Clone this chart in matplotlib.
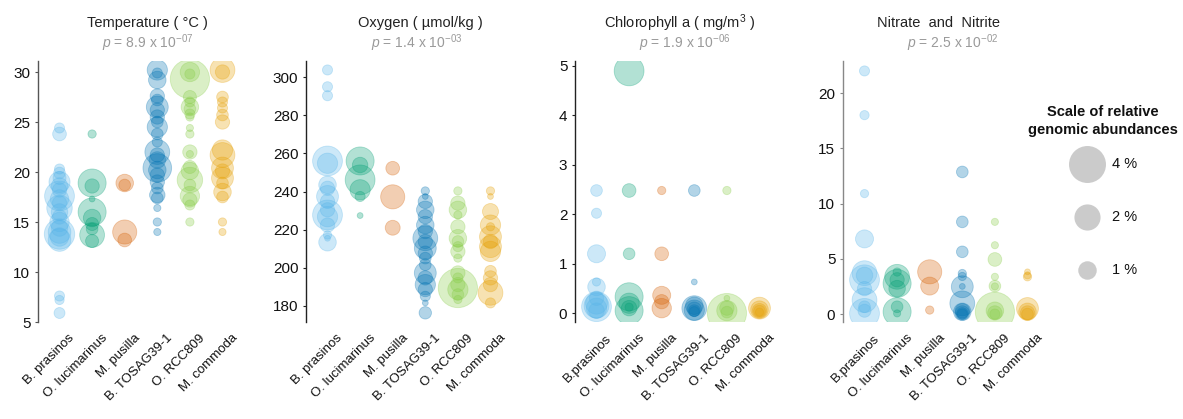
import numpy as np
import matplotlib
matplotlib.use("Agg")
import matplotlib.pyplot as plt
import matplotlib.transforms as mtransforms

plt.rcParams['font.family'] = ['Liberation Sans', 'DejaVu Sans']
plt.rcParams['mathtext.fontset'] = 'custom'
plt.rcParams['mathtext.rm'] = 'Liberation Sans'
plt.rcParams['mathtext.it'] = 'Liberation Sans:italic'

species = ['B. prasinos', 'O. lucimarinus', 'M. pusilla', 'B. TOSAG39-1', 'O. RCC809', 'M. commoda']
species_alt = ['B.prasinos', 'O. lucimarinus', 'M. pusilla', 'B. TOSAG39-1', 'O. RCC809', 'M. commoda']
colors = ['#56B4E9', '#009E73', '#D55E00', '#0072B2', '#86CC45', '#E69F00']

# temperature (degC) and relative abundance (%) per species
temp_vals = [
    [24.4, 23.8, 20.3, 19.9, 19.4, 19.0, 18.6, 18.2, 17.6, 17.3, 16.9, 16.4, 16.0, 15.5, 15.0, 14.4, 14.0, 13.8, 13.5, 13.2, 7.6, 7.2, 5.9],
    [23.8, 18.9, 18.6, 17.3, 16.0, 15.4, 14.8, 14.3, 13.7, 13.1],
    [18.9, 18.7, 14.0, 13.2],
    [30.2, 29.9, 29.2, 27.6, 27.2, 26.5, 26.2, 25.5, 25.0, 24.5, 23.8, 23.0, 22.0, 21.7, 21.2, 20.4, 20.2, 19.7, 19.0, 18.4, 17.7, 17.4, 16.4, 15.0, 14.0],
    [30.0, 29.8, 29.3, 27.5, 27.0, 26.5, 26.3, 25.8, 25.5, 24.4, 23.8, 22.0, 21.8, 20.5, 20.1, 19.2, 18.7, 17.6, 17.2, 16.7, 15.0],
    [30.2, 30.0, 27.5, 27.0, 26.4, 25.7, 25.0, 22.2, 21.7, 20.4, 20.1, 19.4, 18.9, 18.0, 17.5, 15.0, 14.0],
]
temp_abund = [
    [0.3, 0.55, 0.3, 0.4, 0.5, 1.3, 0.8, 0.6, 2.6, 1.0, 0.6, 1.9, 0.8, 0.6, 1.1, 0.8, 1.5, 2.7, 1.0, 1.5, 0.3, 0.25, 0.35],
    [0.2, 2.3, 0.6, 0.1, 2.3, 0.9, 0.5, 0.4, 1.8, 0.5],
    [0.9, 0.4, 1.7, 0.55],
    [1.2, 0.3, 0.9, 0.6, 0.4, 1.4, 0.6, 0.6, 0.4, 1.2, 0.4, 0.3, 1.8, 0.6, 0.8, 2.4, 0.9, 0.6, 0.6, 0.4, 0.7, 0.4, 0.15, 0.2, 0.15],
    [1.1, 0.3, 4.5, 0.5, 0.3, 0.9, 0.4, 0.3, 0.2, 0.15, 0.2, 0.6, 0.15, 0.5, 0.9, 1.9, 0.4, 1.1, 0.6, 0.3, 0.2],
    [1.8, 0.6, 0.4, 0.3, 0.3, 0.4, 0.6, 1.2, 1.8, 1.4, 0.6, 1.4, 0.4, 0.9, 0.4, 0.2, 0.15],
]

# oxygen (umol/kg)
oxy_vals = [
    [303.7, 294.9, 290.2, 256.0, 254.8, 243.5, 241.7, 237.4, 234.8, 230.4, 227.7, 226.8, 222.4, 217.2, 215.5, 213.4],
    [256.0, 253.9, 246.1, 240.9, 237.4, 227.4],
    [252.2, 237.2, 221.0],
    [240.3, 237.4, 234.8, 230.4, 226.8, 222.4, 219.0, 215.5, 213.8, 210.3, 207.7, 205.1, 201.6, 197.3, 194.7, 191.2, 188.6, 185.1, 181.6, 176.4],
    [240.3, 233.9, 230.4, 227.7, 221.5, 215.5, 213.8, 211.1, 208.6, 205.1, 197.3, 194.7, 191.2, 189.4, 188.6, 186.0, 183.4],
    [240.3, 237.4, 229.5, 222.4, 221.5, 216.3, 213.8, 211.1, 208.6, 198.2, 194.7, 191.2, 186.9, 181.6],
]
oxy_abund = [
    [0.3, 0.3, 0.3, 2.6, 1.2, 0.9, 0.6, 1.4, 0.6, 0.6, 2.6, 1.2, 0.6, 0.2, 0.1, 0.9],
    [2.3, 0.7, 2.6, 1.2, 0.3, 0.1],
    [0.55, 1.7, 0.65],
    [0.2, 0.1, 0.6, 0.9, 0.6, 0.9, 0.6, 1.8, 0.6, 1.4, 0.6, 0.4, 0.4, 1.4, 0.6, 1.2, 0.6, 0.3, 0.1, 0.45],
    [0.2, 0.6, 0.9, 0.2, 0.6, 0.9, 0.4, 0.3, 0.6, 0.2, 0.6, 0.3, 0.6, 4.5, 1.2, 0.4, 0.2],
    [0.2, 0.1, 0.75, 1.2, 0.2, 1.4, 0.6, 1.4, 1.2, 0.4, 0.6, 0.6, 1.8, 0.3],
]

# chlorophyll a (mg/m3)
chl_vals = [
    [2.48, 2.02, 1.2, 0.63, 0.53, 0.3, 0.2, 0.15, 0.13, 0.1, 0.05],
    [4.9, 2.48, 1.2, 0.33, 0.2, 0.12, 0.1, 0.05],
    [2.48, 1.2, 0.36, 0.23, 0.1],
    [2.48, 0.63, 0.15, 0.1, 0.08, 0.06, 0.05, 0.03],
    [2.48, 0.3, 0.1, 0.05, 0.02, 0.0],
    [0.1, 0.07, 0.05, 0.04, 0.02],
]
chl_abund = [
    [0.4, 0.3, 0.95, 0.2, 0.9, 0.6, 1.4, 1.8, 2.6, 1.2, 0.7],
    [2.6, 0.55, 0.4, 2.3, 1.2, 0.2, 0.7, 2.3],
    [0.2, 0.55, 0.95, 0.6, 1.1],
    [0.4, 0.1, 0.9, 1.8, 0.6, 1.2, 0.4, 0.3],
    [0.2, 0.1, 0.6, 1.2, 0.4, 4.5],
    [1.4, 0.9, 0.6, 0.4, 0.2],
]

# nitrate and nitrite
nit_vals = [
    [22.0, 18.0, 10.9, 6.8, 3.7, 3.5, 3.1, 2.3, 1.26, 0.66, 0.3, 0.06],
    [3.8, 3.37, 3.1, 2.77, 2.3, 0.66, 0.21, 0.06],
    [3.82, 2.53, 0.36],
    [12.86, 8.34, 5.63, 3.67, 3.4, 2.5, 2.47, 0.97, 0.3, 0.2, 0.1, 0.05, 0.0],
    [8.34, 6.23, 4.94, 3.37, 2.53, 2.5, 0.3, 0.2, 0.1, 0.0],
    [3.82, 3.5, 3.37, 0.5, 0.2, 0.1, 0.0],
]
nit_abund = [
    [0.3, 0.25, 0.2, 0.95, 1.8, 0.8, 2.6, 0.6, 1.8, 0.4, 0.5, 2.6],
    [0.2, 1.8, 0.6, 2.3, 0.8, 0.4, 2.3, 0.15],
    [1.7, 0.95, 0.2],
    [0.4, 0.4, 0.4, 0.2, 0.2, 0.1, 1.4, 1.8, 0.6, 0.9, 0.6, 0.4, 0.3],
    [0.15, 0.15, 0.55, 0.15, 0.4, 0.15, 0.9, 4.5, 0.6, 0.3],
    [0.1, 0.15, 0.2, 1.4, 0.9, 0.6, 0.4],
]

titles = ['Temperature ( °C )', 'Oxygen ( µmol/kg )', 'Chlorophyll a ( mg/m$^3$ )', 'Nitrate  and  Nitrite']
pvals = ['8.9', '1.4', '1.9', '2.5']
pexps = ['-07', '-03', '-06', '-02']
legend_pct = [4, 2, 1]

W, H = 1183, 419
fig = plt.figure(figsize=(W / 100, H / 100), dpi=100)

# size scale: bubble area proportional to abundance (1 % ~ 18.5 px across)
K = (18.5 * 0.72) ** 2


def px_axes(left, top, width, height):
    return fig.add_axes([left / W, 1 - (top + height) / H, width / W, height / H])


panels = [
    (temp_vals, temp_abund, (5, 31.1), [5, 10, 15, 20, 25, 30], species, 38, '#555555'),
    (oxy_vals, oxy_abund, (171.6, 308.4), [180, 200, 220, 240, 260, 280, 300], species, 306, '#222222'),
    (chl_vals, chl_abund, (-0.18, 5.1), [0, 1, 2, 3, 4, 5], species_alt, 575, '#222222'),
    (nit_vals, nit_abund, (-0.72, 22.9), [0, 5, 10, 15, 20], species_alt, 843, '#888888'),
]
title_x = [(147, 148), (420, 417), (680, 685), (938, 953)]

for i, (vals, abund, ylim, yticks, labels, left, spc) in enumerate(panels):
    ax = px_axes(left, 61, 206, 261)
    for j in range(len(species)):
        v = np.array(vals[j])
        a = np.array(abund[j])
        order = np.argsort(-a)
        ax.scatter(np.full(len(v), j), v[order], s=a[order] * K, color=colors[j],
                   alpha=0.3, linewidths=0.6, edgecolors=colors[j], zorder=2)
    ax.set_xlim(-0.66, 5.66)
    ax.set_ylim(*ylim)
    ax.set_yticks(yticks)
    ax.set_xticks([])
    # rotated category labels, anchored at their top-right end
    trans = mtransforms.blended_transform_factory(ax.transData, ax.transAxes) + \
        mtransforms.ScaledTranslation(9 / 100, -10 / 100, fig.dpi_scale_trans)
    for j, lab in enumerate(labels):
        ax.text(j, 0, lab, transform=trans, rotation=45, ha='right', va='top',
                rotation_mode='anchor', fontsize=9.5, color='#111111')
    ax.tick_params(axis='y', length=2, width=0.8, color=spc, pad=3.5, labelsize=11, labelcolor='#111111')
    for s in ['top', 'right', 'bottom']:
        ax.spines[s].set_visible(False)
    ax.spines['left'].set_color(spc)
    ax.spines['left'].set_linewidth(1.0)
    ax.set_facecolor('none')

    tx, px = title_x[i]
    fig.text(tx / W, 1 - 23 / H, titles[i], ha='center', va='center', fontsize=10.5, color='#222222')
    fig.text(px / W, 1 - 43 / H, r'$p$ = ' + pvals[i] + ' x 10$^{' + pexps[i] + '}$',
             ha='center', va='center', fontsize=10, color='#9a9a9a')

# legend for bubble size
lax = fig.add_axes([0, 0, 1, 1])
lax.set_xlim(0, W)
lax.set_ylim(H, 0)
lax.axis('off')
lax.text(1103, 121, 'Scale of relative\ngenomic abundances', ha='center', va='center',
         fontsize=10.5, fontweight='bold', linespacing=1.3, color='#111111')
leg_y = [164, 217, 270]
for pct, yy in zip(legend_pct, leg_y):
    lax.scatter([1087], [yy], s=pct * K, color='#999999', alpha=0.5, linewidths=0)
    lax.text(1112, yy, f'{pct} %', ha='left', va='center', fontsize=10.5, color='#111111')

fig.savefig('out.png', dpi=100)
